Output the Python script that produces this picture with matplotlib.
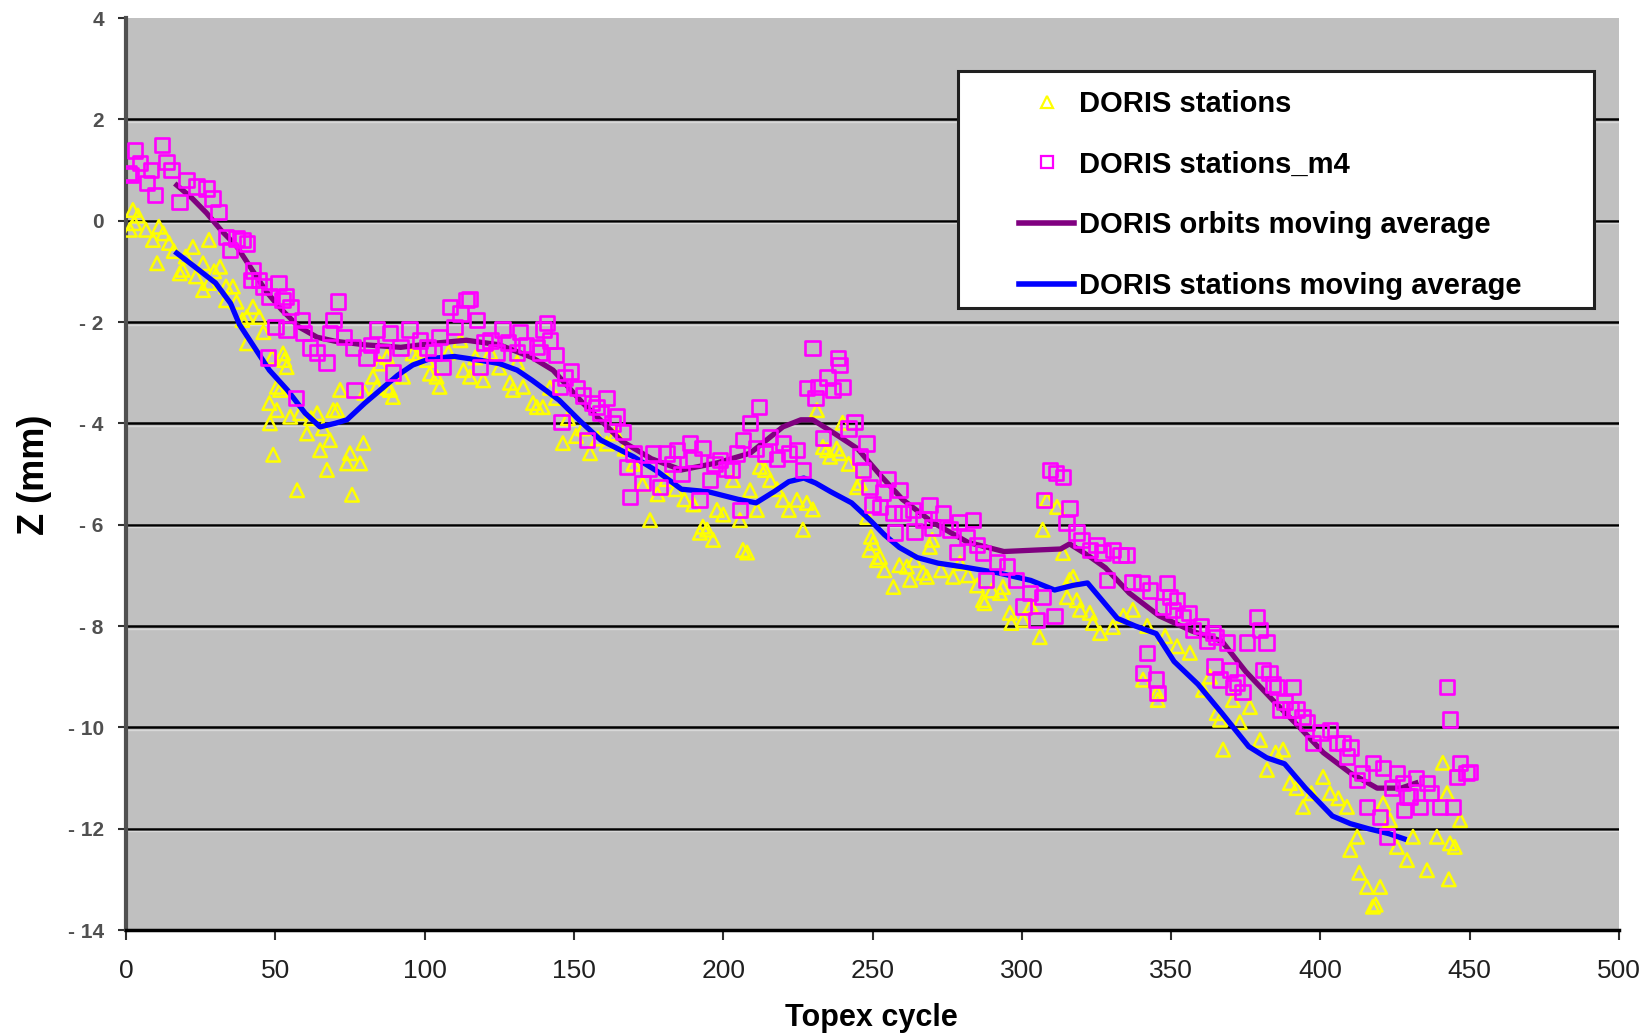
import matplotlib
matplotlib.use('Agg')
import matplotlib.pyplot as plt
from matplotlib.patches import Rectangle
from matplotlib.lines import Line2D

# ---------------- data (Topex cycle, Z mm) ----------------
doris_stations = [
    (1.3, -0.18), (2.3, 0.21), (2.8, -0.05), (4, 0.1), (6.7, -0.18), (9, -0.38), (10.4, -0.84),
    (11, -0.12), (12.5, -0.25), (14.4, -0.44), (16, -0.6), (18, -1.04), (19, -0.97), (20, -0.71),
    (22.4, -0.52), (23.4, -1.1), (25.8, -0.84), (25.8, -1.37), (27.8, -0.38), (27.8, -1.23),
    (29.5, -1.0), (31.5, -0.91), (33.5, -1.3), (33.5, -1.57), (35.8, -1.3), (37, -1.6),
    (39, -1.96), (40.5, -1.9), (40.5, -2.42), (42.5, -1.7), (44.6, -1.9), (46, -2.2),
    (48, -3.6), (48.2, -4.0), (49, -2.69), (49.3, -4.62), (50.5, -3.28), (50.5, -3.74),
    (51.6, -3.34), (52.6, -2.62), (53, -2.75), (53.8, -2.89), (55, -3.87), (57.3, -5.32),
    (58.3, -3.8), (60.6, -4.2), (62, -3.9), (64, -3.8), (65, -4.53), (66, -4.1), (67.3, -4.92),
    (68.3, -4.33), (69.4, -3.74), (70.7, -3.74), (71.7, -3.34), (74, -4.79), (75, -4.59),
    (75.7, -5.41), (78.4, -4.79), (79.5, -4.39), (79.8, -3.4), (82.7, -3.08), (84, -3.28),
    (85, -2.82), (87.4, -2.69), (87.6, -3.3), (88.4, -3.34), (89.4, -3.48), (92.8, -3.08),
    (96, -2.62), (97.5, -2.69), (100.8, -2.75), (101.8, -3.02), (104, -3.08), (105, -3.28),
    (108, -2.6), (112, -2.36), (113, -2.95), (115.2, -3.08), (117, -2.7), (119.6, -3.15),
    (122, -2.6), (125, -2.9), (128.6, -3.2), (129.6, -3.34), (131, -2.8), (133, -3.28),
    (136.3, -3.6), (137.6, -3.68), (139.6, -3.68), (142, -3.3), (144, -3.5), (146.3, -4.39),
    (148, -3.9), (150.7, -4.25), (153, -4.1), (155.4, -4.59), (158, -4.3), (161, -4.4),
    (164, -4.2), (167, -4.5), (170, -4.8), (173, -5.2), (175.5, -5.91), (178, -5.4),
    (181, -5.1), (184, -5.3), (187, -5.5), (190, -5.6), (192.2, -6.16), (193.2, -6.04),
    (194.6, -6.1), (196.6, -6.3), (197.9, -5.71), (200, -5.8), (203.3, -5.12), (205.6, -5.91),
    (206.6, -6.5), (208, -6.55), (209, -5.32), (211.3, -5.71), (212.3, -4.86), (214, -4.92),
    (215.7, -5.12), (218, -5.3), (220, -5.51), (222, -5.71), (224.7, -5.51), (226.7, -6.1),
    (228, -5.57), (230, -5.7), (231.4, -3.74), (233.4, -4.47), (234.8, -4.53), (235.8, -4.66),
    (238, -4.5), (239, -4.59), (240, -3.99), (242, -4.8), (244.8, -5.26), (245.8, -5.18),
    (248.2, -5.85), (249, -6.5), (249.5, -6.24), (250.2, -6.36), (251.5, -6.7), (252.5, -6.64),
    (254, -6.9), (257, -7.23), (259, -6.8), (261.5, -6.83), (262.6, -7.09), (264, -6.7),
    (267, -6.95), (268.2, -7.03), (269.2, -6.44), (270, -6.3), (273, -6.9), (277, -7.03),
    (279.3, -6.76), (282, -7.0), (285, -7.2), (287, -7.49), (287.5, -7.55), (290, -7.3),
    (292.7, -7.35), (293.7, -7.23), (296, -7.74), (296.5, -7.94), (300.4, -7.88), (303, -7.6),
    (306, -8.22), (307, -6.1), (308.4, -5.51), (311.8, -5.65), (313.8, -6.56), (315.1, -7.43),
    (316, -7.09), (317.2, -7.03), (318.4, -7.49), (319.5, -7.68), (322.8, -7.74), (323.8, -7.94),
    (326.2, -8.14), (330.5, -8.02), (334, -7.8), (337.2, -7.68), (340.6, -9.06), (342, -8.0),
    (345.3, -9.32), (345.5, -9.46), (348, -8.2), (352, -8.4), (356.3, -8.53), (360.7, -9.26),
    (363, -9.0), (365.3, -9.72), (366.4, -9.85), (367.4, -10.44), (370.7, -9.46), (373, -9.9),
    (376.4, -9.6), (379.8, -10.25), (382.1, -10.84), (385, -10.5), (387.5, -10.44), (389.8, -11.1),
    (392, -11.2), (394.2, -11.57), (397, -11.3), (400.9, -10.98), (403.2, -11.3), (406, -11.4),
    (408.9, -11.57), (410, -12.42), (412.3, -12.16), (413, -12.87), (415.6, -13.15),
    (417.6, -13.54), (418.5, -13.5), (420, -13.15), (421, -11.5), (423.3, -11.83),
    (425.6, -12.36), (429, -12.62), (431, -12.16), (435.7, -12.82), (439, -12.16), (441, -10.7),
    (442.4, -11.3), (443, -13.0), (443.4, -12.29), (445, -12.36), (446.8, -11.83),
]

doris_stations_m4 = [
    (0.8, 0.94), (1.7, 0.9), (3, 1.39), (4.7, 1.14), (7, 0.74), (8.4, 1.0), (9.7, 0.51),
    (12, 1.49), (13.6, 1.16), (15.3, 1.0), (18, 0.37), (20.3, 0.8), (23.6, 0.67), (27, 0.64),
    (29, 0.44), (31, 0.17), (33.5, -0.32), (34.8, -0.58), (37, -0.35), (39, -0.38),
    (40.5, -0.45), (42, -1.17), (42.6, -0.98), (44.6, -1.17), (46, -1.3), (47.5, -2.7),
    (48, -1.5), (50, -2.1), (51, -1.23), (52.5, -1.57), (53.6, -1.5), (53.8, -2.15), (55, -1.7),
    (57, -3.5), (59, -1.96), (59.4, -2.22), (61.6, -2.5), (63.9, -2.6), (67.2, -2.8),
    (68.3, -2.22), (69.4, -1.96), (71, -1.6), (73, -2.3), (76, -2.5), (76.5, -3.34),
    (80.6, -2.7), (82, -2.45), (84, -2.15), (86, -2.6), (88.4, -2.22), (89.4, -3.0), (92, -2.5),
    (95, -2.15), (98.5, -2.36), (101, -2.5), (103, -2.6), (105, -2.3), (106, -2.89),
    (108.5, -1.7), (110, -2.1), (112, -1.83), (114, -1.57), (115, -1.55), (117.5, -1.96),
    (118.6, -2.89), (120, -2.4), (122, -2.36), (124, -2.6), (126, -2.15), (128, -2.4),
    (131, -2.6), (132, -2.2), (134, -2.45), (137.6, -2.49), (138.6, -2.6), (139.8, -2.15),
    (141, -2.02), (142, -2.36), (144, -2.65), (145.3, -3.28), (145.9, -3.97), (147, -3.1),
    (149, -2.98), (151, -3.3), (153, -3.45), (154.4, -4.33), (156, -3.6), (157.6, -3.68),
    (159, -3.8), (161, -3.5), (163, -4.0), (164.4, -3.87), (166.5, -4.17), (167.8, -4.86),
    (168.8, -5.45), (170, -4.6), (173, -5.18), (175, -4.9), (176.5, -4.59), (178.8, -5.26),
    (181, -4.59), (183, -4.8), (184.5, -4.53), (186, -5.0), (188.9, -4.39), (190, -4.7),
    (192, -5.51), (193, -4.49), (195.6, -5.12), (197, -4.8), (198.9, -4.72), (201, -4.9),
    (203, -4.92), (204.6, -4.59), (205.6, -5.71), (206.6, -4.33), (209, -3.99), (211, -4.5),
    (212, -3.68), (214, -4.6), (215.7, -4.27), (218, -4.7), (220, -4.39), (222, -4.6),
    (224.7, -4.53), (226.7, -4.92), (228, -3.3), (230, -2.51), (231, -3.5), (232, -3.28),
    (233.4, -4.29), (235, -3.1), (236.8, -3.34), (238.5, -2.71), (239, -2.85), (240, -3.28),
    (242, -4.1), (244, -3.97), (245.8, -4.66), (246.8, -4.92), (248, -4.4), (249, -5.26),
    (250, -5.6), (252.5, -5.65), (253.5, -5.37), (255, -5.1), (257, -5.77), (257.5, -6.16),
    (259, -5.32), (260, -5.77), (263.6, -5.71), (264, -6.14), (267, -5.9), (269, -5.61),
    (270, -6.06), (273.6, -5.77), (276, -6.1), (278.3, -6.54), (279, -5.95), (281.6, -6.24),
    (283.6, -5.91), (285, -6.4), (287, -6.56), (288, -7.09), (291.7, -6.74), (295, -6.83),
    (298, -7.09), (300.5, -7.62), (302.7, -7.35), (305, -7.88), (307, -7.43), (307.5, -5.51),
    (309.5, -4.92), (311, -7.8), (311.5, -4.98), (313.8, -5.06), (315, -5.97), (316, -5.67),
    (318.4, -6.16), (320, -6.3), (322.8, -6.5), (325, -6.4), (327, -6.55), (328.5, -7.09),
    (330.5, -6.5), (333, -6.6), (335, -6.6), (337, -7.13), (340, -7.15), (340.6, -8.93),
    (342, -8.53), (343, -7.3), (345, -9.06), (345.5, -9.32), (347.3, -7.62), (348.6, -7.15),
    (349.6, -7.43), (350.6, -7.68), (352, -7.5), (354, -7.82), (356, -7.74), (357.4, -8.08),
    (360, -8.0), (362, -8.3), (364, -8.14), (364.5, -8.8), (365, -8.22), (366.4, -9.06),
    (368.7, -8.33), (369.7, -8.87), (370.7, -9.2), (372, -9.12), (374, -9.3), (375.4, -8.33),
    (378.7, -7.82), (379.8, -8.08), (380.8, -8.87), (382, -8.33), (383, -8.93), (384.1, -9.16),
    (385.5, -9.2), (386.5, -9.65), (388, -9.5), (390, -9.65), (390.8, -9.2), (392, -9.65),
    (394, -9.8), (395.5, -9.91), (397.5, -10.31), (400, -10.1), (403.2, -10.05), (405.5, -10.31),
    (407.6, -10.31), (408.9, -10.58), (410, -10.4), (412.3, -11.04), (414, -10.9),
    (415.6, -11.57), (417.6, -10.7), (420, -11.77), (421, -10.8), (422.3, -12.16), (424, -11.2),
    (425.6, -10.9), (427.7, -11.1), (428, -11.63), (429, -11.37), (430, -11.37), (432, -11.0),
    (433.4, -11.57), (435.7, -11.1), (437, -11.3), (440, -11.57), (442.4, -9.2), (443.4, -9.85),
    (444.4, -11.57), (445.7, -10.98), (446.8, -10.7), (449, -10.9), (450, -10.88),
]

orbits_moving_avg = [
    (17, 0.7), (22, 0.45), (27, 0.15), (32, -0.2), (37, -0.5), (42, -0.95), (47, -1.4),
    (52, -1.75), (58, -2.1), (64, -2.3), (70, -2.38), (80, -2.45), (92, -2.5), (103, -2.42),
    (114, -2.36), (125, -2.45), (136, -2.7), (143, -2.95), (153, -3.6), (160, -4.0),
    (166, -4.35), (176, -4.7), (186, -4.92), (198, -4.78), (209, -4.59), (220, -4.07),
    (226, -3.93), (230, -3.93), (237, -4.19), (245, -4.5), (253, -5.05), (260, -5.5),
    (270, -5.95), (282, -6.35), (294, -6.53), (305, -6.5), (313, -6.48), (316, -6.38),
    (322, -6.6), (328, -6.85), (336, -7.35), (346, -7.8), (357, -8.1), (367, -8.3),
    (375, -8.9), (384, -9.46), (393, -10.0), (401, -10.5), (410, -10.9), (419, -11.2),
    (427, -11.2), (432, -11.1),
]

stations_moving_avg = [
    (17, -0.64), (23, -0.91), (30, -1.23), (35, -1.63), (38, -2.05), (43, -2.5), (48, -2.95),
    (54, -3.34), (60, -3.8), (65, -4.07), (70, -4.0), (74, -3.93), (80, -3.6), (85, -3.35),
    (91, -3.05), (96, -2.85), (102, -2.72), (110, -2.68), (118, -2.75), (125, -2.82),
    (131, -2.95), (136, -3.15), (145, -3.54), (152, -3.95), (159, -4.33), (170, -4.66),
    (178, -4.95), (186, -5.3), (195, -5.35), (205, -5.5), (211, -5.57), (217, -5.35),
    (222, -5.15), (227, -5.08), (231, -5.18), (236, -5.35), (243, -5.57), (249, -5.9),
    (254, -6.2), (259, -6.45), (265, -6.65), (272, -6.76), (280, -6.83), (292, -6.95),
    (303, -7.1), (311, -7.29), (317, -7.2), (322, -7.15), (327, -7.5), (332, -7.85),
    (338, -8.0), (345, -8.15), (351, -8.7), (359, -9.15), (367, -9.72), (376, -10.38),
    (382, -10.6), (388, -10.72), (395, -11.2), (404, -11.75), (410, -11.9), (416, -12.0),
    (423, -12.1), (428, -12.2),
]

series_labels = ['DORIS stations', 'DORIS stations_m4',
                 'DORIS orbits moving average', 'DORIS stations moving average']
x_ticks = [0, 50, 100, 150, 200, 250, 300, 350, 400, 450, 500]
y_ticks = [4, 2, 0, -2, -4, -6, -8, -10, -12, -14]
y_tick_labels = ['4', '2', '0', '- 2', '- 4', '- 6', '- 8', '- 10', '- 12', '- 14']
x_title = 'Topex cycle'
y_title = 'Z (mm)'

# ---------------- drawing ----------------
plt.rcParams['font.family'] = ['Liberation Sans', 'DejaVu Sans']

W, H = 1648, 1033
fig = plt.figure(figsize=(W / 100, H / 100), dpi=100)
fig.patch.set_facecolor('white')
L, R, T, B = 126, 1619, 18, 930
ax = fig.add_axes([L / W, 1 - B / H, (R - L) / W, (B - T) / H])
ax.set_facecolor('#C0C0C0')
ax.set_xlim(0, 500)
ax.set_ylim(-14, 4)

for v in y_ticks[1:-1]:
    ax.axhline(v, color='black', lw=1.8, zorder=1)
    ax.axhline(v - 0.05, color='#D8D8D8', lw=1.0, zorder=1)

def unzip(pairs):
    return [p[0] for p in pairs], [p[1] for p in pairs]

sx, sy = unzip(doris_stations)
mx, my = unzip(doris_stations_m4)
ox, oy = unzip(orbits_moving_avg)
bx, by = unzip(stations_moving_avg)

ax.scatter(sx, sy, marker='^', s=95, facecolors='none', edgecolors='#FFFF00',
           linewidths=1.8, zorder=3)
ax.plot(ox, oy, color='#800080', lw=3.8, zorder=4, solid_joinstyle='round')
ax.plot(bx, by, color='#0000FF', lw=3.8, zorder=5, solid_joinstyle='round')
ax.scatter(mx, my, marker='s', s=110, facecolors='none', edgecolors='#FF00FF',
           linewidths=1.9, zorder=6)

ax.spines['top'].set_visible(False)
ax.spines['right'].set_visible(False)
ax.spines['left'].set_color('#505050')
ax.spines['left'].set_linewidth(3)
ax.spines['bottom'].set_color('black')
ax.spines['bottom'].set_linewidth(2.5)

ax.set_xticks(x_ticks)
ax.set_xticklabels([str(t) for t in x_ticks])
ax.set_yticks(y_ticks)
ax.set_yticklabels(y_tick_labels)
ax.tick_params(axis='x', direction='out', length=7, width=1.5, color='#303030',
               labelsize=19, labelcolor='#202020', pad=14)
ax.tick_params(axis='y', direction='out', length=6, width=1.5, color='#303030',
               labelsize=15, labelcolor='#505050', pad=10)
for lab in ax.get_yticklabels():
    lab.set_fontweight('bold')

fig.text(871 / W, 1 - 1018 / H, x_title, ha='center', va='center',
         fontsize=22, fontweight='bold')
fig.text(34 / W, 1 - 475 / H, y_title, ha='center', va='center', rotation=90,
         fontsize=26, fontweight='bold')

# legend box
rx0 = (958 - L) / (R - L)
ry0 = (B - 308) / (B - T)
rw = (1594 - 958) / (R - L)
rh = (308 - 71) / (B - T)
ax.add_patch(Rectangle((rx0, ry0), rw, rh, transform=ax.transAxes, facecolor='white',
                       edgecolor='#202020', lw=2.2, zorder=10, clip_on=False))
handles = [
    Line2D([], [], marker='^', ls='', mfc='none', mec='#FFFF00', ms=8, mew=1.6),
    Line2D([], [], marker='s', ls='', mfc='none', mec='#FF00FF', ms=8, mew=1.6),
    Line2D([], [], color='#800080', lw=4),
    Line2D([], [], color='#0000FF', lw=4),
]
leg = ax.legend(handles, series_labels, loc='upper left',
                bbox_to_anchor=((1019 - L) / (R - L), (B - 90) / (B - T)),
                bbox_transform=ax.transAxes, frameon=False,
                prop={'weight': 'bold', 'size': 21}, handlelength=1.9,
                handletextpad=0.15, labelspacing=1.12, borderpad=0, borderaxespad=0)
leg.set_zorder(11)

fig.savefig('out.png', dpi=100, facecolor='white')
